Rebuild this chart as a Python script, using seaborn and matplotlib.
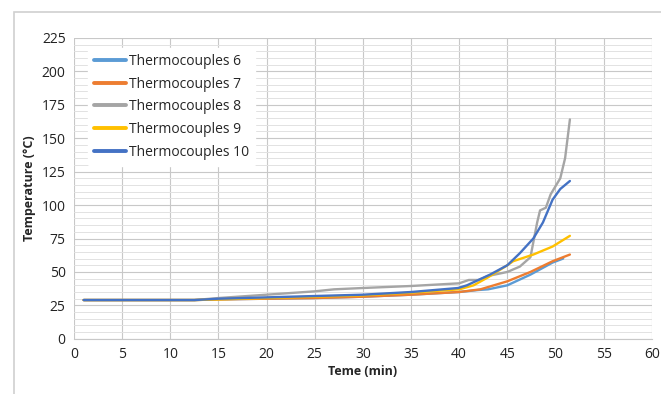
import matplotlib.pyplot as plt
import matplotlib.patches as patches
from matplotlib.ticker import MultipleLocator
import seaborn as sns
import pandas as pd

# Zaman (dk) ve sıcaklık (°C) değerleri
t6 = [1, 5, 10, 12.5, 15, 20, 25, 30, 35, 40, 42, 43, 45, 47.4, 49.7, 50.8]
T6 = [29, 29, 29, 29, 29.5, 30, 30.5, 31.5, 33, 35, 36.5, 37, 40, 48, 57, 60]

t7 = [1, 5, 10, 12.5, 15, 20, 25, 30, 35, 40, 42.2, 45, 47.4, 49.7, 51.5]
T7 = [29, 29, 29, 29, 29.5, 30, 30.5, 31.5, 33, 35, 37, 43, 50, 58, 63]

t8 = [1, 5, 10, 12.5, 15, 20, 25, 27, 30, 35, 40, 41, 42, 43, 45, 46.3, 47.4,
      48.1, 48.4, 49, 49.5, 50.5, 51, 51.5]
T8 = [29, 29, 29, 29, 30.5, 33, 35.5, 37, 38, 39.5, 41.5, 44, 44, 47, 50, 54, 61,
      87, 96, 98, 108, 120, 135, 164]

t9 = [1, 5, 10, 12.5, 15, 20, 25, 30, 35, 40, 41.5, 43, 45, 45.6, 47.7, 49.7, 51.5]
T9 = [29, 29, 29, 29, 29.5, 30.5, 31.5, 32.5, 34.5, 37, 40, 46, 55, 58, 63, 69, 77]

t10 = [1, 5, 10, 12.5, 15, 20, 25, 30, 35, 39.9, 40.8, 41.4, 43.2, 45, 46.3, 47.7,
       48.7, 49.7, 50.5, 51.5]
T10 = [29, 29, 29, 29, 30, 31, 32, 33, 35, 38, 40, 42, 48, 55, 64, 75, 87, 104, 112, 118]

labels = ['Thermocouples 6', 'Thermocouples 7', 'Thermocouples 8',
          'Thermocouples 9', 'Thermocouples 10']
colors = ['#5B9BD5', '#ED7D31', '#A5A5A5', '#FFC000', '#4472C4']

series = [(t6, T6), (t7, T7), (t8, T8), (t9, T9), (t10, T10)]
frames = []
for lab, (t, T) in zip(labels, series):
    frames.append(pd.DataFrame({'Zaman': t, 'Sicaklik': T, 'Seri': lab}))
df = pd.concat(frames, ignore_index=True)

sns.set_style('white')
plt.rcParams['font.family'] = ['Open Sans', 'DejaVu Sans']

fig = plt.figure(figsize=(6.61, 3.94), dpi=100)
ax = fig.add_axes([0.112, 0.14, 0.874, 0.764])

# Dış çerçeve
fig.patches.append(patches.Rectangle((14 / 661, -0.05), 1.0, 1 - 12 / 394 + 0.05,
                                     transform=fig.transFigure, fill=False,
                                     edgecolor='#d0d0d0', linewidth=1.2))

sns.lineplot(data=df, x='Zaman', y='Sicaklik', hue='Seri', hue_order=labels,
             palette=colors, linewidth=1.7, sort=False, estimator=None, ax=ax)

ax.set_xlim(0, 60)
ax.set_ylim(0, 225)
ax.xaxis.set_major_locator(MultipleLocator(5))
ax.yaxis.set_major_locator(MultipleLocator(25))
ax.yaxis.set_minor_locator(MultipleLocator(5))
ax.grid(which='major', color='#c8c8c8', linewidth=0.8)
ax.grid(which='minor', axis='y', color='#e2e2e2', linewidth=0.7)
ax.set_axisbelow(True)
for s in ax.spines.values():
    s.set_visible(False)
ax.spines['bottom'].set_visible(True)
ax.spines['bottom'].set_color('#c8c8c8')
ax.tick_params(axis='both', which='both', length=0, labelsize=10, colors='#222222', pad=6)

ax.set_xlabel('Teme (min)', fontsize=9, fontweight='bold', labelpad=2)
ax.set_ylabel('Temperature (°C)', fontsize=9, fontweight='bold', labelpad=4)

leg = ax.legend(loc='upper left', bbox_to_anchor=(0.012, 0.99), frameon=True,
                fontsize=10, handlelength=2.3, handletextpad=0.2,
                labelspacing=0.55, borderpad=0.45)
leg.get_frame().set_edgecolor('white')
leg.get_frame().set_facecolor('white')
leg.get_frame().set_alpha(1)
for line in leg.get_lines():
    line.set_linewidth(2.8)

plt.savefig('out.png', dpi=100)
